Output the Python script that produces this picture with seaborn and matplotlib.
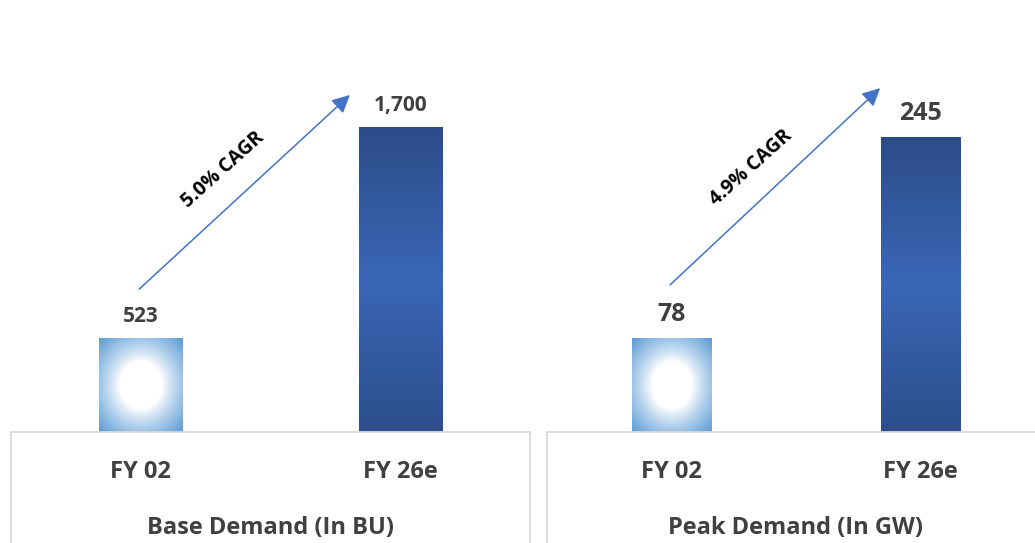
import numpy as np
import pandas as pd
import matplotlib
matplotlib.use("Agg")
import matplotlib.pyplot as plt
import seaborn as sns
from matplotlib.colors import to_rgb

# ---- data ----
categories = ["FY 02", "FY 26e"]
base_demand = [523, 1700]      # BU
peak_demand = [78, 245]        # GW
panel_titles = ["Base Demand (In BU)", "Peak Demand (In GW)"]
cagr_labels = ["5.0% CAGR", "4.9% CAGR"]

sns.set_theme(style="white")
plt.rcParams["font.family"] = ["Open Sans", "DejaVu Sans"]

TEXT = "#404040"
GRID = "#d9d9d9"
ARROW = "#4472c4"

W, H = 1035, 543
fig = plt.figure(figsize=(W / 100, H / 100), dpi=100)
fig.patch.set_facecolor("white")

ax_h = 380 / H
axes = [
    fig.add_axes([11 / W, 111 / H, 519 / W, ax_h]),
    fig.add_axes([547 / W, 111 / H, 498 / W, ax_h]),
]
ylims = [2118, 315.6]
label_sizes = [15, 18]
arrow_pos = [((0.247, 0.376), (0.653, 0.887)), ((0.247, 0.387), (0.669, 0.905))]
text_pos = [(0.408, 0.689), (0.41, 0.695)]


def radial_fill(n=200):
    u, v = np.meshgrid(np.linspace(-1, 1, n), np.linspace(-1, 1, n))
    r = np.sqrt(u ** 2 + v ** 2) / np.sqrt(2)
    t = np.clip((r - 0.36) / 0.64, 0, 1) ** 0.85
    edge = np.array(to_rgb("#5b9bd5"))
    white = np.ones(3)
    return white[None, None, :] * (1 - t[..., None]) + edge[None, None, :] * t[..., None]


def vertical_fill(n=200):
    y = np.linspace(0, 1, n)
    dark_top = np.array(to_rgb("#2c4e8b"))
    mid = np.array(to_rgb("#3b67b6"))
    dark_bot = np.array(to_rgb("#2c4c88"))
    img = np.zeros((n, 3))
    for i, s in enumerate(y):
        if s < 0.5:
            w = s / 0.5
            img[i] = dark_top * (1 - w) + mid * w
        else:
            w = (s - 0.5) / 0.5
            img[i] = mid * (1 - w) + dark_bot * w
    return np.repeat(img[:, None, :], 20, axis=1)


for k, (ax, values) in enumerate(zip(axes, [base_demand, peak_demand])):
    df = pd.DataFrame({"period": categories, "value": values})
    sns.barplot(data=df, x="period", y="value", ax=ax, width=0.32,
                color="#3b67b6", saturation=1, errorbar=None)
    ax.set_xlim(-0.5, 1.5)
    ax.set_ylim(0, ylims[k])

    # gradient fills clipped to each bar
    fills = [radial_fill(), vertical_fill()]
    for patch, img in zip(ax.patches, fills):
        x0, y0 = patch.get_x(), patch.get_y()
        w, h = patch.get_width(), patch.get_height()
        patch.set_facecolor("none")
        patch.set_edgecolor("none")
        im = ax.imshow(img, extent=[x0, x0 + w, y0 + h, y0], origin="upper",
                       aspect="auto", interpolation="bilinear", zorder=2)
        im.set_clip_path(patch)
    ax.set_xlim(-0.5, 1.5)
    ax.set_ylim(0, ylims[k])

    ax.bar_label(ax.containers[0], labels=[f"{v:,.0f}" for v in values],
                 padding=8, fontsize=label_sizes[k], fontweight="bold", color=TEXT)

    # axis styling
    for side in ["top", "right", "left"]:
        ax.spines[side].set_visible(False)
    ax.spines["bottom"].set_color(GRID)
    ax.spines["bottom"].set_linewidth(1.3)
    ax.set_yticks([])
    ax.set_ylabel("")
    ax.tick_params(axis="x", length=0, pad=20, labelsize=17, labelcolor=TEXT)
    for lab in ax.get_xticklabels():
        lab.set_fontweight("bold")
    ax.set_xlabel(panel_titles[k], fontsize=17, fontweight="bold", color=TEXT, labelpad=23)

    # category box borders
    ax.plot([0, 0], [0, -0.35], transform=ax.transAxes, color=GRID, lw=1.3, clip_on=False)
    if k == 0:
        ax.plot([1, 1], [0, -0.35], transform=ax.transAxes, color=GRID, lw=1.3, clip_on=False)

    # growth arrow and CAGR label
    (sx, sy), (ex, ey) = arrow_pos[k]
    ax.annotate("", xy=(ex, ey), xytext=(sx, sy), xycoords="axes fraction",
                textcoords="axes fraction",
                arrowprops=dict(arrowstyle="-|>,head_length=0.9,head_width=0.45",
                                color=ARROW, lw=1.1, shrinkA=0, shrinkB=0))
    tx, ty = text_pos[k]
    ax.text(tx, ty, cagr_labels[k], transform=ax.transAxes, rotation=42,
            rotation_mode="anchor", ha="center", va="center",
            fontsize=14, fontweight="bold", color="black")

fig.savefig("out.png", dpi=100, facecolor="white")
